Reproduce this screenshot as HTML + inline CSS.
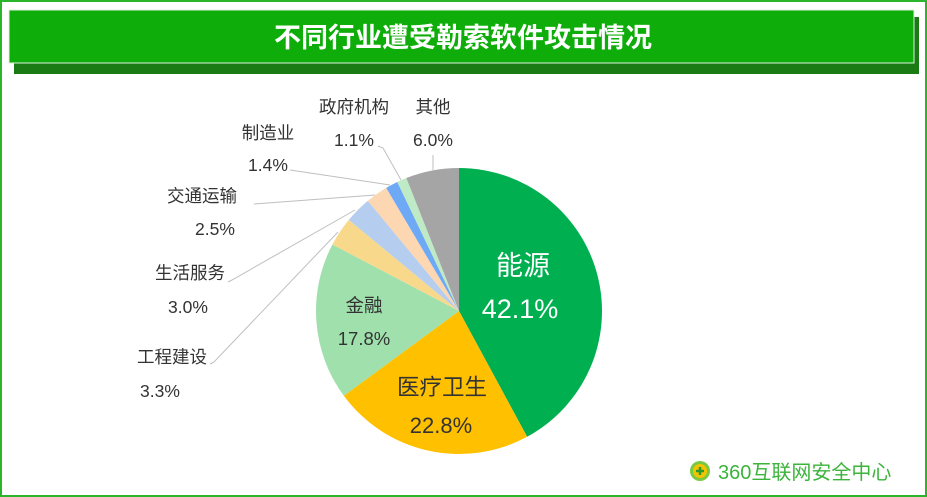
<!DOCTYPE html>
<html><head><meta charset="utf-8"><style>
html,body{margin:0;padding:0;background:#fff}
body{width:927px;height:497px;overflow:hidden;position:relative;font-family:"Liberation Sans","Noto Sans CJK SC",sans-serif}
</style></head><body>
<svg id="s" width="927" height="497" viewBox="0 0 927 497" xmlns="http://www.w3.org/2000/svg" style="position:absolute;left:0;top:0">
<rect x="1" y="1" width="925" height="495" fill="#fff" stroke="#2ab52a" stroke-width="2"/>
<rect x="14" y="17" width="905" height="57" fill="#1a7a14"/>
<rect x="9" y="10" width="905" height="53" fill="#0ead0a" stroke="#dff3dc" stroke-width="1"/>
<text x="463" y="47" text-anchor="middle" font-size="27" font-weight="bold" fill="#fff" font-family="Liberation Sans, Noto Sans CJK SC, sans-serif">不同行业遭受勒索软件攻击情况</text>
<g id="pie"></g>
<g stroke="#bfbfbf" stroke-width="1" fill="none">
<polyline points="433,155 433,170"/>
<polyline points="378,146 383,148 401,180"/>
<polyline points="290,170 390,185"/>
<polyline points="254,204 375,195"/>
<polyline points="228,282 232,280 355,210"/>
<polyline points="210,364 214,362 338,232"/>
</g>
<g font-size="17.5" fill="#333" text-anchor="middle" font-family="Liberation Sans, Noto Sans CJK SC, sans-serif">
<text x="354" y="113">政府机构</text><text x="354" y="146">1.1%</text>
<text x="433" y="113">其他</text><text x="433" y="146">6.0%</text>
<text x="268" y="139">制造业</text><text x="268" y="171">1.4%</text>
<text x="202" y="202">交通运输</text><text x="215" y="235">2.5%</text>
<text x="190" y="279">生活服务</text><text x="188" y="313">3.0%</text>
<text x="172" y="363">工程建设</text><text x="160" y="397">3.3%</text>
<text x="364" y="312" font-size="18.5">金融</text><text x="364" y="345" font-size="18.5">17.8%</text>
<text x="442" y="395" font-size="22.5">医疗卫生</text><text x="441" y="433" font-size="22">22.8%</text>
<text x="523" y="275" font-size="27" fill="#fff">能源</text><text x="520" y="318" font-size="27" fill="#fff">42.1%</text>
</g>
<g>
<circle cx="700" cy="471" r="10" fill="#7ac943"/>
<circle cx="700" cy="471" r="7" fill="#f5c400"/>
<path d="M696 471h8M700 467v8" stroke="#2a9a2a" stroke-width="2.5"/>
<text x="718" y="479" font-size="20" fill="#3cb43c" font-family="Liberation Sans, Noto Sans CJK SC, sans-serif">360互联网安全中心</text>
</g>
</svg>
<script>
var d=[[42.1,"#00b050"],[22.8,"#ffc000"],[17.8,"#9fe0ad"],[3.3,"#f8d98b"],[3.0,"#b5cdee"],[2.5,"#fdd6b2"],[1.4,"#6ea9f5"],[1.1,"#bfeac6"],[6.0,"#a5a5a5"]];
var cx=459,cy=311,r=143,a=0,g=document.getElementById("pie"),h="";
d.forEach(function(x){var a1=a+x[0]/100*2*Math.PI;
var x0=cx+r*Math.sin(a),y0=cy-r*Math.cos(a),x1=cx+r*Math.sin(a1),y1=cy-r*Math.cos(a1);
h+='<path d="M'+cx+' '+cy+'L'+x0+' '+y0+'A'+r+' '+r+' 0 '+(a1-a>Math.PI?1:0)+' 1 '+x1+' '+y1+'Z" fill="'+x[1]+'"/>';a=a1;});
g.innerHTML=h;
</script>
</body></html>
